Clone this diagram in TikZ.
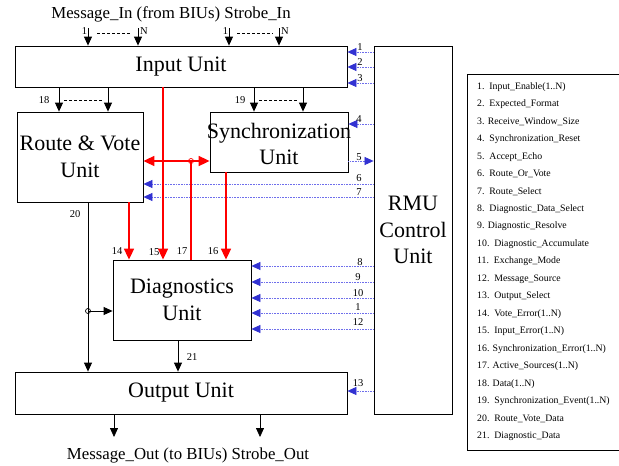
\documentclass[tikz,border=0pt]{standalone}
\usepackage{fontspec}
\setmainfont{Liberation Serif}
\usetikzlibrary{arrows.meta,calc}
\definecolor{bluec}{RGB}{50,50,210}
\definecolor{bluel}{RGB}{110,110,235}
\definecolor{redc}{RGB}{255,0,0}
\begin{document}
\begin{tikzpicture}[x=1pt,y=-1pt,
 blk/.style={draw,line width=0.8pt,inner sep=0pt,align=center,font=\fontsize{22}{26.5}\selectfont},
 bt/.style={inner sep=0pt,align=center,font=\fontsize{22}{26.5}\selectfont},
 ar/.style={line width=0.8pt,-{Triangle[width=8pt,length=9pt]}},
 rline/.style={draw=redc,line width=1.7pt},
 rar/.style={rline,-{Triangle[width=10pt,length=11pt,color=redc]}},
 rdbl/.style={rline,{Triangle[width=10pt,length=11pt,color=redc]}-{Triangle[width=10pt,length=11pt,color=redc]}},
 bar/.style={draw=bluel,line width=0.7pt,dash pattern=on 0.8pt off 0.8pt,-{Triangle[width=8pt,length=9pt,color=bluec]}},
 num/.style={font=\fontsize{10.5}{12}\selectfont,inner sep=0pt},
 ttl/.style={font=\fontsize{16.8}{19}\selectfont,inner sep=0pt},
 leg/.style={font=\fontsize{9.8}{11}\selectfont,inner sep=0pt,anchor=west},
 dsh/.style={line width=0.8pt,dash pattern=on 3pt off 2pt},
 jn/.style={circle,draw,inner sep=0pt,minimum size=5pt,line width=0.7pt}
]
\useasboundingbox (0,0) rectangle (619,466);

% blocks
\node[blk,minimum width=332pt,minimum height=41pt] (in) at (181,66.5) {Input Unit};
\node[blk,minimum width=78pt,minimum height=368pt] (rmu) at (413,230) {RMU\\Control\\Unit};
\node[blk,minimum width=126pt,minimum height=90pt,label={[bt,name=rvtxt]center:Route \& Vote\\Unit}] (rv) at (80,157) {};
\node[blk,minimum width=138pt,minimum height=60pt,label={[bt,name=sytxt,yshift=-2pt]center:Synchronization\\Unit}] (sy) at (279,142) {};
\node[blk,minimum width=138pt,minimum height=80pt] (dg) at (182,300) {Diagnostics\\Unit};
\node[blk,minimum width=332pt,minimum height=42pt] (out) at (181,393) {Output Unit};

% titles
\node[ttl] (tin) at (171,14) {Message\_In (from BIUs) Strobe\_In};
\node[ttl] (tout) at (188,455) {Message\_Out (to BIUs) Strobe\_Out};

% helper coordinates
\coordinate (m1) at (88,28);
\coordinate (mN) at (138,28);
\coordinate (s1) at (229,28);
\coordinate (sN) at (279,28);
\coordinate (x18a) at (59,0);
\coordinate (x18b) at (108,0);
\coordinate (x19a) at (254,0);
\coordinate (x19b) at (303,0);
\coordinate (x14) at (129,0);
\coordinate (x15) at (163,0);
\coordinate (x16) at (226,0);
\coordinate (x17) at (191,0);
\coordinate (x20) at (88,0);
\coordinate (x21) at (178,0);
\coordinate (o1) at (114,437);
\coordinate (o2) at (260,437);

% inputs
\foreach \p in {m1,mN,s1,sN} \draw[ar] (\p) -- (\p |- in.north);
\node[num] (lm1) at (84.5,31) {1};
\node[num] (lmN) at (144,31) {N};
\node[num] (ls1) at (225.5,31) {1};
\node[num] (lsN) at (285,31) {N};
\draw[dsh] (97,33) -- (131,33);
\draw[dsh] (237,33) -- (273,33);

% 18, 19
\foreach \p in {x18a,x18b} \draw[ar] (in.south -| \p) -- (rv.north -| \p);
\foreach \p in {x19a,x19b} \draw[ar] (in.south -| \p) -- (sy.north -| \p);
\draw[dsh] (64,100) -- (103,100);
\draw[dsh] (259,100) -- (298,100);
\node[num] (l18) at (44,100) {18};
\node[num] (l19) at (240,100) {19};

% blue control lines
\coordinate (y1) at (0,52);
\coordinate (y2) at (0,67);
\coordinate (y3) at (0,83);
\coordinate (y4) at (0,124);
\coordinate (y5) at (0,161);
\coordinate (y6) at (0,184);
\coordinate (y7) at (0,197);
\coordinate (y8) at (0,266);
\coordinate (y9) at (0,282);
\coordinate (y10) at (0,298);
\coordinate (y11) at (0,313);
\coordinate (y12) at (0,329);
\coordinate (y13) at (0,391);
\foreach \p in {y1,y2,y3} \draw[bar] (rmu.west |- \p) -- (in.east |- \p);
\draw[bar] (rmu.west |- y4) -- (sy.east |- y4);
\draw[bar] (sy.east |- y5) -- (rmu.west |- y5);
\foreach \p in {y6,y7} \draw[bar] (rmu.west |- \p) -- (rv.east |- \p);
\foreach \p in {y8,y9,y10,y11,y12} \draw[bar] (rmu.west |- \p) -- (dg.east |- \p);
\draw[bar] (rmu.west |- y13) -- (out.east |- y13);
\node[num] (b1) at (360,47) {1};
\node[num] (b2) at (360,62) {2};
\node[num] (b3) at (360,78) {3};
\node[num] (b4) at (359,119) {4};
\node[num] (b5) at (359,157) {5};
\node[num] (b6) at (359,178) {6};
\node[num] (b7) at (359,192) {7};
\node[num] (b8) at (360,262) {8};
\node[num] (b9) at (358,277) {9};
\node[num] (b10) at (358,293) {10};
\node[num] (b11) at (358,307) {1};
\node[num] (b12) at (358,322) {12};
\node[num] (b13) at (358,383) {13};

% red lines
\draw[rar] (in.south -| x15) -- (dg.north -| x15);
\draw[rar] (rv.south -| x14) -- (dg.north -| x14);
\draw[rar] (sy.south -| x16) -- (dg.north -| x16);
\coordinate (j17) at (191,161);
\draw[rdbl] (rv.east |- j17) -- (sy.west |- j17);
\draw[rline] (dg.north -| x17) -- (j17);
\node[jn,draw=redc] (c17) at (j17) {};
\node[num] (l14) at (117,251) {14};
\node[num] (l15) at (154,252) {15};
\node[num] (l17) at (182,251) {17};
\node[num] (l16) at (213,251) {16};

% black lower lines
\coordinate (j20) at (88,311);
\draw[ar] (rv.south -| x20) -- (out.north -| x20);
\draw[ar] (j20) -- (dg.west |- j20);
\node[jn] (c20) at (j20) {};
\node[num] (l20) at (75,214) {20};
\draw[ar] (dg.south -| x21) -- (out.north -| x21);
\node[num] (l21) at (192,357) {21};
\draw[ar] (out.south -| o1) -- (o1);
\draw[ar] (out.south -| o2) -- (o2);

% legend
\draw[line width=0.9pt] (467,74) rectangle (622,450);
\foreach \t [count=\i] in {
 {1.\ \ Input\_Enable(1..N)},
 {2.\ \ Expected\_Format},
 {3. Receive\_Window\_Size},
 {4.\ \ Synchronization\_Reset},
 {5.\ \ Accept\_Echo},
 {6.\ \ Route\_Or\_Vote},
 {7.\ \ Route\_Select},
 {8.\ \ Diagnostic\_Data\_Select},
 {9. Diagnostic\_Resolve},
 {10.\ \ Diagnostic\_Accumulate},
 {11.\ \ Exchange\_Mode},
 {12.\ \ Message\_Source},
 {13.\ \ Output\_Select},
 {14.\ \ Vote\_Error(1..N)},
 {15.\ \ Input\_Error(1..N)},
 {16. Synchronization\_Error(1..N)},
 {17. Active\_Sources(1..N)},
 {18. Data(1..N)},
 {19.\ \ Synchronization\_Event(1..N)},
 {20.\ \ Route\_Vote\_Data},
 {21.\ \ Diagnostic\_Data}}
 \node[leg] (leg\i) at (477,{87+17.45*(\i-1)}) {\t};
\end{tikzpicture}
\end{document}
